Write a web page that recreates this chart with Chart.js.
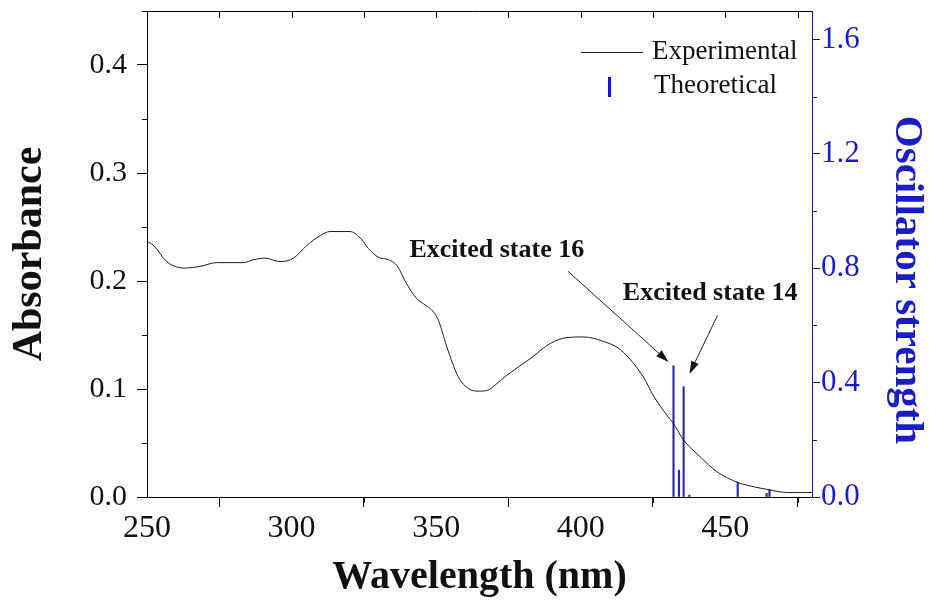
<!DOCTYPE html>
<html lang="en">
<head>
<meta charset="UTF-8">
<title>Absorbance / oscillator strength</title>
<script src="https://cdn.jsdelivr.net/npm/chart.js"></script>
<style>
  body { margin: 0; background: #fff; }
  #chart { display: block; }
</style>
</head>
<body>
<canvas id="chart" width="929" height="605"></canvas>
<script>
// experimental spectrum
const expWavelength = [250, 252.2, 256.8, 260.3, 263.1, 268.3, 274.1, 283.3, 286.8, 290.8,
  296, 300.6, 305.3, 309.9, 313.3, 320.2, 323.7, 326.6, 330, 333.5,
  336.4, 339.8, 343.3, 345.6, 349.1, 350.8, 353.7, 357.7, 361.2, 364.6,
  367.5, 371, 374.5, 382.5, 389.4, 395.2, 401, 407.9, 413.7, 421.7,
  425.2, 429.8, 432.1, 435.6, 441.3, 447.1, 454.6, 459.8, 464.4, 471.3, 480];
const expAbsorbance = [0.237, 0.233, 0.218, 0.213, 0.212, 0.2135, 0.217, 0.217, 0.2197, 0.2212,
  0.218, 0.221, 0.233, 0.242, 0.2458, 0.2458, 0.240, 0.230, 0.222, 0.2197,
  0.2144, 0.1975, 0.1836, 0.179, 0.1713, 0.1636, 0.139, 0.111, 0.1004, 0.098,
  0.0985, 0.105, 0.1128, 0.128, 0.142, 0.1476, 0.1482, 0.144, 0.1365, 0.111,
  0.0935, 0.0758, 0.068, 0.0527, 0.0373, 0.0234, 0.0132, 0.0095, 0.0071, 0.0042, 0.0042];

// calculated transitions
const theoWavelength = [432.1, 434.0, 435.6, 437.6, 454.3, 464.3, 465.3];
const theoStrength = [0.459, 0.094, 0.386, 0.007, 0.052, 0.013, 0.027];

const xTicks = [250, 300, 350, 400, 450];
const absTicks = [0, 0.1, 0.2, 0.3, 0.4];
const oscTicks = [0, 0.4, 0.8, 1.2, 1.6];

const labels = [
  { text: 'Excited state 16', at: [371, 0.228], from: [395.6, 0.209], to: [430.4, 0.125] },
  { text: 'Excited state 14', at: [444.8, 0.1885], from: [447.3, 0.168], to: [437.6, 0.114] }
];

const serif = '"Liberation Serif", "Times New Roman", serif';
const blue = '#1c1cc4';

function arrow(ctx, x1, y1, x2, y2) {
  const ang = Math.atan2(y2 - y1, x2 - x1);
  const len = 13, w = 4;
  ctx.beginPath();
  ctx.moveTo(x1, y1);
  ctx.lineTo(x2 - Math.cos(ang) * len, y2 - Math.sin(ang) * len);
  ctx.stroke();
  ctx.beginPath();
  ctx.moveTo(x2, y2);
  ctx.lineTo(x2 - Math.cos(ang) * len - Math.sin(ang) * w, y2 - Math.sin(ang) * len + Math.cos(ang) * w);
  ctx.lineTo(x2 - Math.cos(ang) * len + Math.sin(ang) * w, y2 - Math.sin(ang) * len - Math.cos(ang) * w);
  ctx.closePath();
  ctx.fill();
}

const extras = {
  id: 'extras',
  afterDraw(chart) {
    const { ctx, chartArea: a, scales: { x, y, y2 } } = chart;
    ctx.save();
    ctx.lineWidth = 1;
    ctx.strokeStyle = '#000';
    ctx.beginPath();
    // top frame with inward ticks
    ctx.moveTo(a.left, a.top + 0.5);
    ctx.lineTo(a.right, a.top + 0.5);
    for (let v = 275; v < 480; v += 25) {
      const px = Math.round(x.getPixelForValue(v)) + 0.5;
      ctx.moveTo(px, a.top);
      ctx.lineTo(px, a.top + 7);
    }
    // minor ticks bottom and left
    for (let v = 275; v < 480; v += 50) {
      const px = Math.round(x.getPixelForValue(v)) + 0.5;
      ctx.moveTo(px, a.bottom);
      ctx.lineTo(px, a.bottom + 6);
    }
    for (let v = 0.05; v < 0.45; v += 0.1) {
      const py = Math.round(y.getPixelForValue(v)) + 0.5;
      ctx.moveTo(a.left, py);
      ctx.lineTo(a.left - 5, py);
    }
    ctx.stroke();
    // minor ticks right
    ctx.strokeStyle = '#14148c';
    ctx.beginPath();
    for (let v = 0.2; v < 1.7; v += 0.4) {
      const py = Math.round(y2.getPixelForValue(v)) + 0.5;
      ctx.moveTo(a.right, py);
      ctx.lineTo(a.right + 5, py);
    }
    ctx.stroke();

    // annotations
    ctx.fillStyle = '#111';
    ctx.strokeStyle = '#222';
    ctx.font = 'bold 26px ' + serif;
    ctx.textAlign = 'center';
    ctx.textBaseline = 'middle';
    labels.forEach(l => {
      ctx.fillText(l.text, x.getPixelForValue(l.at[0]), y.getPixelForValue(l.at[1]));
      arrow(ctx, x.getPixelForValue(l.from[0]), y.getPixelForValue(l.from[1]),
        x.getPixelForValue(l.to[0]), y.getPixelForValue(l.to[1]));
    });

    // legend
    ctx.font = '27px ' + serif;
    ctx.textAlign = 'left';
    ctx.fillStyle = '#111';
    ctx.strokeStyle = '#222';
    ctx.beginPath();
    ctx.moveTo(a.right - 231, a.top + 41.5);
    ctx.lineTo(a.right - 169, a.top + 41.5);
    ctx.stroke();
    ctx.fillText('Experimental', a.right - 160, a.top + 41);
    ctx.fillStyle = '#1010e0';
    ctx.fillRect(a.right - 204, a.top + 66, 3, 20);
    ctx.fillStyle = '#111';
    ctx.fillText('Theoretical', a.right - 158, a.top + 75);

    // right axis title
    ctx.save();
    ctx.translate(907, 280);
    ctx.rotate(Math.PI / 2);
    ctx.font = 'bold 41px ' + serif;
    ctx.fillStyle = blue;
    ctx.textAlign = 'center';
    ctx.fillText('Oscillator strength', 0, 0);
    ctx.restore();
    ctx.restore();
  }
};

function fixV(width) {
  return s => { s.width = width; s.paddingTop = 0; s.paddingBottom = 0; };
}

new Chart(document.getElementById('chart'), {
  type: 'line',
  data: {
    datasets: [
      {
        label: 'Experimental',
        data: expWavelength.map((w, i) => ({ x: w, y: expAbsorbance[i] })),
        borderColor: '#1e1e1e',
        borderWidth: 1,
        pointRadius: 0,
        cubicInterpolationMode: 'monotone',
        yAxisID: 'y',
        order: 0
      },
      {
        type: 'bar',
        label: 'Theoretical',
        data: theoWavelength.map((w, i) => ({ x: w, y: theoStrength[i] })),
        backgroundColor: '#2a2aa8',
        barThickness: 1.5,
        grouped: false,
        yAxisID: 'y2',
        order: 1
      }
    ]
  },
  options: {
    responsive: false,
    animation: false,
    layout: { padding: { top: 11, right: 0, left: 0, bottom: 0 } },
    plugins: { legend: { display: false }, tooltip: { enabled: false } },
    scales: {
      x: {
        type: 'linear',
        min: 250,
        max: 480,
        offset: false,
        afterBuildTicks: s => { s.ticks = xTicks.map(v => ({ value: v })); },
        afterFit: s => { s.height = 108; s.paddingLeft = 0; s.paddingRight = 0; },
        grid: { drawOnChartArea: false, tickLength: 10, color: '#000' },
        border: { color: '#000' },
        ticks: { font: { family: serif, size: 32, lineHeight: 1 }, color: '#111', padding: 6, maxRotation: 0 },
        title: { display: true, text: 'Wavelength (nm)', color: '#111', font: { family: serif, size: 40, weight: 'bold', lineHeight: 1 }, padding: { top: 0, bottom: 7 } }
      },
      y: {
        position: 'left',
        min: 0,
        max: 0.45,
        afterBuildTicks: s => { s.ticks = absTicks.map(v => ({ value: v })); },
        afterFit: fixV(147),
        grid: { drawOnChartArea: false, tickLength: 10, color: '#000' },
        border: { color: '#000' },
        ticks: { font: { family: serif, size: 30 }, color: '#111', padding: 10, callback: v => v.toFixed(1) },
        title: { display: true, text: 'Absorbance', color: '#111', font: { family: serif, size: 42, weight: 'bold', lineHeight: 1 }, padding: { top: 9, bottom: 0 } }
      },
      y2: {
        position: 'right',
        min: 0,
        max: 1.7,
        afterBuildTicks: s => { s.ticks = oscTicks.map(v => ({ value: v })); },
        afterFit: fixV(117),
        grid: { drawOnChartArea: false, tickLength: 8, color: '#14148c' },
        border: { color: '#14148c' },
        ticks: { font: { family: serif, size: 31 }, color: blue, padding: 1, callback: v => v.toFixed(1) }
      }
    }
  },
  plugins: [extras]
});
</script>
</body>
</html>
